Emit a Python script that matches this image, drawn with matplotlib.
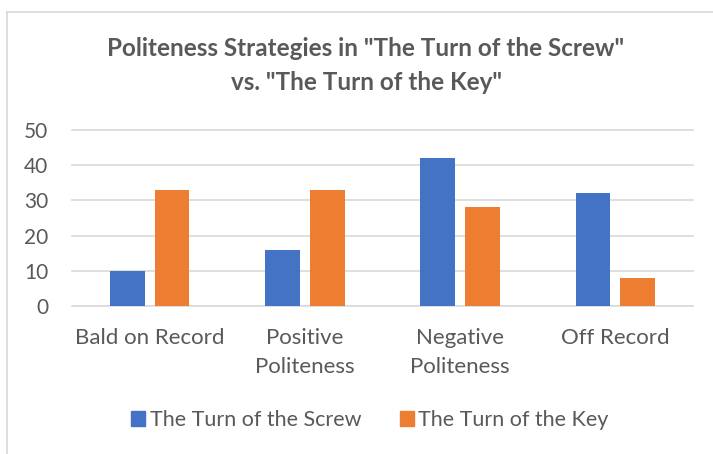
import numpy as np
import matplotlib.pyplot as plt
from matplotlib.patches import Patch
from matplotlib.lines import Line2D

# data
categories = ["Bald on Record", "Positive\nPoliteness", "Negative\nPoliteness", "Off Record"]
screw = [10, 16, 42, 32]
key = [33, 33, 28, 8]
yticks = [0, 10, 20, 30, 40, 50]

blue = "#4472C4"
orange = "#ED7D31"
grey = "#595959"

plt.rcParams["font.family"] = ["Lato", "DejaVu Sans"]

fig = plt.figure(figsize=(7.13, 4.54), dpi=100)
ax = fig.add_axes([72 / 713, 1 - 306 / 454, 621 / 713, 176 / 454])

x = np.arange(len(categories))
w = 0.225
off = 0.144
ax.bar(x - off, screw, w, color=blue, zorder=3)
ax.bar(x + off, key, w, color=orange, zorder=3)

ax.set_xlim(-0.5, len(categories) - 0.5)
ax.set_ylim(0, 50)
ax.set_yticks(yticks)
ax.set_xticks(x)
ax.set_xticklabels(categories, linespacing=1.55)
ax.tick_params(axis="y", length=0, labelsize=15, labelcolor=grey, pad=17)
ax.tick_params(axis="x", length=0, labelsize=16, labelcolor=grey, pad=16)
ax.grid(axis="y", color="#d9d9d9", linewidth=1.2, zorder=0)
for gl in ax.get_ygridlines():
    gl.set_clip_on(False)
for s in ax.spines.values():
    s.set_visible(False)
ax.axhline(0, color="#d9d9d9", linewidth=1.2, zorder=2)

fig.text(366 / 713, 1 - 48 / 454, 'Politeness Strategies in "The Turn of the Screw"',
         ha="center", va="center", fontsize=17.5, fontweight="bold", color=grey)
fig.text(366 / 713, 1 - 82 / 454, 'vs. "The Turn of the Key"',
         ha="center", va="center", fontsize=17.5, fontweight="bold", color=grey)

handles = [Patch(color=blue), Patch(color=orange)]
fig.legend(handles, ["The Turn of the Screw", "The Turn of the Key"],
           loc="center", bbox_to_anchor=(370 / 713, 1 - 420 / 454), ncol=2,
           frameon=False, fontsize=15.5, labelcolor=grey,
           handlelength=0.65, handleheight=0.65, handletextpad=0.2, columnspacing=1.8)

# outer chart frame (partly cut off at right and bottom)
fig.add_artist(Line2D([7 / 713, 7 / 713], [0, 1 - 12 / 454], transform=fig.transFigure,
                      color="#d9d9d9", linewidth=1.2))
fig.add_artist(Line2D([7 / 713, 1], [1 - 12 / 454, 1 - 12 / 454], transform=fig.transFigure,
                      color="#d9d9d9", linewidth=1.2))

fig.savefig("out.png", dpi=100)
